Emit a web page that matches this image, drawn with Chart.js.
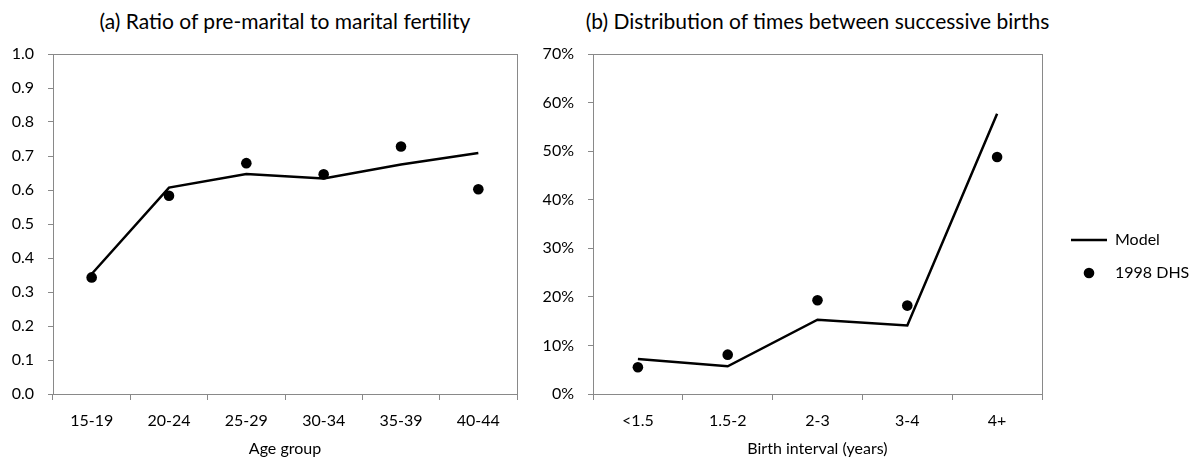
<!DOCTYPE html>
<html><head><meta charset="utf-8">
<script src="https://cdn.jsdelivr.net/npm/chart.js@4/dist/chart.umd.min.js"></script>
<style>
html,body{margin:0;padding:0;background:#fff;overflow:hidden;width:1190px;height:459px;}
#wrap{position:relative;width:1190px;height:459px;overflow:hidden;background:#fff;}
canvas{position:absolute;top:0;}
.ttl{position:absolute;top:10px;font-family:Lato,sans-serif;font-size:21px;line-height:21px;color:#000;text-align:center;white-space:nowrap;}
</style></head>
<body><div id="wrap">
<div class="ttl" style="left:0;width:570px">(a) Ratio of pre-marital to marital fertility</div>
<div class="ttl" style="left:517.5px;width:600px">(b) Distribution of times between successive births</div>
<canvas id="c1" width="530" height="459" style="left:0"></canvas>
<canvas id="c2" width="700" height="459" style="left:530px"></canvas>
</div>
<script>
// ---- data ----
const ageGroups = ['15-19', '20-24', '25-29', '30-34', '35-39', '40-44'];
const ratioModel = [0.353, 0.607, 0.647, 0.634, 0.675, 0.709];
const ratioDHS = [0.343, 0.583, 0.679, 0.646, 0.728, 0.602];
const birthIntervals = ['<1.5', '1.5-2', '2-3', '3-4', '4+'];
const intervalModel = [7.2, 5.7, 15.3, 14.1, 57.7];
const intervalDHS = [5.5, 8.1, 19.3, 18.2, 48.8];
const seriesNames = ['Model', '1998 DHS'];
const axisTitles = ['Age group', 'Birth interval (years)'];

const GRAY = '#898989';
const FONT = 'Lato';
Chart.defaults.font.family = FONT;
Chart.defaults.font.size = 16;
Chart.defaults.color = '#000';

const framePlugin = {
  id: 'frame',
  beforeDatasetsDraw(chart) {
    const a = chart.chartArea, ctx = chart.ctx;
    ctx.save();
    ctx.strokeStyle = GRAY; ctx.lineWidth = 1;
    ctx.strokeRect(Math.round(a.left) + 0.5, Math.round(a.top) + 0.5,
                   Math.round(a.right) - Math.round(a.left), Math.round(a.bottom) - Math.round(a.top));
    ctx.restore();
  }
};

const DOT_R = 5.3;

function datasets(model, dhs) {
  return [
    { label: seriesNames[0], data: model, borderColor: '#000', backgroundColor: '#000',
      borderWidth: 2.5, pointRadius: 0, pointHoverRadius: 0, pointStyle: 'line', tension: 0, order: 1 },
    { label: seriesNames[1], data: dhs, showLine: false, pointStyle: 'circle', pointRadius: DOT_R,
      pointHoverRadius: DOT_R, backgroundColor: '#000', borderColor: '#000', borderWidth: 0, order: 0 }
  ];
}

function xScale(title) {
  return {
    type: 'category', offset: true,
    grid: { display: true, offset: true, drawOnChartArea: false, drawTicks: true, tickLength: 6, color: GRAY },
    border: { display: true, color: GRAY, width: 1 },
    ticks: { padding: 11, maxRotation: 0, autoSkip: false, font: { size: 16 } },
    title: { display: true, text: title, font: { size: 16 }, padding: { top: 0, bottom: 1 } },
    afterFit(s) { s.height = 65; }
  };
}

function yScale(max, step, fmt, width) {
  return {
    type: 'linear', min: 0, max: max,
    grid: { display: true, drawOnChartArea: false, drawTicks: true, tickLength: 5, color: GRAY },
    border: { display: true, color: GRAY, width: 1 },
    ticks: { stepSize: step, padding: 14, callback: fmt, font: { size: 16 } },
    afterFit(s) { s.width = width; }
  };
}

// Left chart
new Chart(document.getElementById('c1'), {
  type: 'line',
  data: { labels: ageGroups, datasets: datasets(ratioModel, ratioDHS) },
  options: {
    responsive: false, animation: false, events: [],
    layout: { padding: { top: 54, right: 13, bottom: 0, left: 0 } },
    plugins: { legend: { display: false }, tooltip: { enabled: false }, title: { display: false } },
    scales: {
      x: xScale(axisTitles[0]),
      y: yScale(1, 0.1, v => Number(v).toFixed(1), 53)
    }
  },
  plugins: [framePlugin]
});

// Right chart
const mctx = document.createElement('canvas').getContext('2d');
mctx.font = '16px ' + FONT;
const tw = Math.max(...seriesNames.map(s => mctx.measureText(s).width));
const legPad = 17, psw = 36;
const legendW = legPad + psw + 8 + tw + 10;
const padRight = 700 - 524 - legendW;

// round legend symbol for the survey series (legend sample only)
const dotIcon = document.createElement('canvas');
dotIcon.width = 12; dotIcon.height = 12;
(function () {
  const c = dotIcon.getContext('2d');
  c.fillStyle = '#000';
  c.beginPath(); c.arc(6, 6, DOT_R, 0, Math.PI * 2); c.fill();
})();

new Chart(document.getElementById('c2'), {
  type: 'line',
  data: { labels: birthIntervals, datasets: datasets(intervalModel, intervalDHS) },
  options: {
    responsive: false, animation: false, events: [],
    layout: { padding: { top: 54, right: padRight, bottom: 0, left: 0 } },
    plugins: {
      tooltip: { enabled: false }, title: { display: false },
      legend: {
        display: true, position: 'right', align: 'center', maxWidth: 600,
        labels: {
          usePointStyle: true, pointStyleWidth: psw, boxHeight: 7, padding: legPad,
          color: '#000', font: { size: 16 },
          sort: (a, b) => a.datasetIndex - b.datasetIndex,
          generateLabels(chart) {
            const items = Chart.defaults.plugins.legend.labels.generateLabels(chart);
            items.forEach(it => { if (it.datasetIndex === 1) it.pointStyle = dotIcon; });
            return items;
          }
        }
      }
    },
    scales: {
      x: xScale(axisTitles[1]),
      y: yScale(70, 10, v => v + '%', 63),
      y2: { type: 'linear', position: 'right', display: true,
            grid: { display: false }, border: { display: false }, ticks: { display: false },
            afterFit(s) { s.width = 12; } }
    }
  },
  plugins: [framePlugin]
});
</script>
</body></html>
